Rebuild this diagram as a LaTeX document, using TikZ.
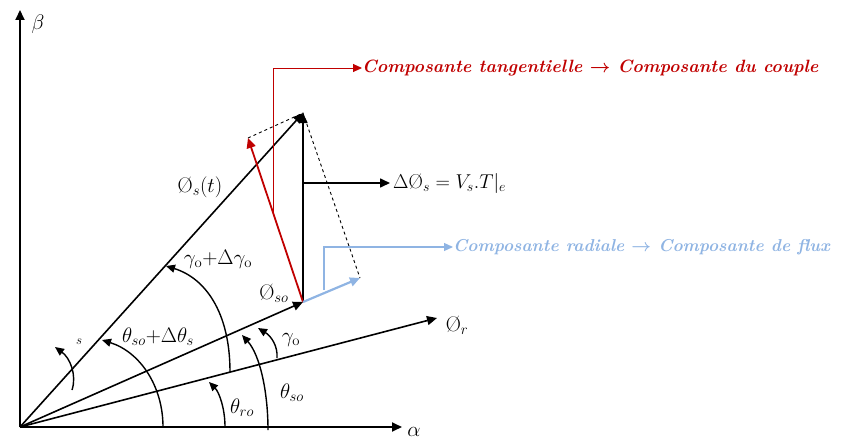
\RequirePackage{fix-cm}
\documentclass[tikz,border=0pt]{standalone}
\usepackage{amsmath}
\usetikzlibrary{arrows.meta}
\definecolor{redc}{RGB}{192,0,0}
\definecolor{bluec}{RGB}{143,180,227}
\begin{document}
\begin{tikzpicture}[x=1pt,y=-1pt,
  vec/.style={line width=1.6pt,-{Triangle[length=10pt,width=9pt]}},
  arcarrow/.style={line width=1.4pt,-{Triangle[length=9pt,width=8pt]}},
  conn/.style={line width=0.9pt,-{Triangle[length=9pt,width=8pt]}},
  lab/.style={inner sep=0pt,font=\fontsize{21}{23}\selectfont},
  comp/.style={inner sep=0pt,anchor=west,font=\fontsize{17.8}{21}\selectfont\bfseries\itshape}]
\useasboundingbox (0,0) rectangle (845,441);
% key points
\coordinate (O) at (20,427);
\coordinate (Ax) at (402,427);
\coordinate (Bx) at (20,10);
\coordinate (Pr) at (437,318);
\coordinate (Pso) at (303,302);
\coordinate (Pst) at (303,113);
\coordinate (Pt) at (248,138);
\coordinate (Prad) at (360,278);
\coordinate (Dv) at (303,183);
\coordinate (Dh) at (390,183);
% axes
\draw[vec,line width=1.8pt] (O) -- (Ax);
\draw[vec,line width=1.8pt] (O) -- (Bx);
\node[lab] (alpha) at (414,432) {$\alpha$};
\node[lab] (beta) at (38,24) {$\beta$};
% vectors
\draw[vec] (O) -- (Pr);
\draw[vec] (O) -- (Pso);
\draw[vec] (O) -- (Pst);
\draw[vec] (Pso) -- (Pst);
\draw[vec] (Dv) -- (Dh);
\draw[dashed,line width=0.9pt] (Pt) -- (Pst) -- (Prad);
\draw[vec,redc,line width=1.8pt] (Pso) -- (Pt);
\draw[vec,bluec,line width=2.2pt] (Pso) -- (Prad);
% labels of vectors
\node[lab] (lr) at (457,325) {$\text{\O}_r$};
\node[lab] (lso) at (274,293) {$\text{\O}_{so}$};
\node[lab] (lst) at (200,187) {$\text{\O}_s(t)$};
\node[lab,anchor=west,font=\fontsize{20}{22}\selectfont] (ld) at (393,183) {$\Delta\text{\O}_s = V_s.T|_{e}$};
% angle arcs
\coordinate (a1s) at (225,427); \coordinate (a1e) at (209,382);
\draw[arcarrow] (a1s) .. controls (225,408) and (219,392) .. (a1e);
\coordinate (a2s) at (268,430); \coordinate (a2e) at (242,335);
\draw[arcarrow] (a2s) .. controls (268,392) and (260,355) .. (a2e);
\coordinate (a3s) at (277,358); \coordinate (a3e) at (258,328);
\draw[arcarrow] (a3s) .. controls (278,346) and (271,336) .. (a3e);
\coordinate (a4s) at (230,372); \coordinate (a4e) at (166,266);
\draw[arcarrow] (a4s) .. controls (230,312) and (205,278) .. (a4e);
\coordinate (a5s) at (163,427); \coordinate (a5e) at (102,340);
\draw[arcarrow] (a5s) .. controls (163,386) and (140,352) .. (a5e);
\coordinate (a6s) at (72,390); \coordinate (a6e) at (55,347);
\draw[arcarrow] (a6s) .. controls (77,375) and (70,358) .. (a6e);
\node[lab] (lro) at (242,408) {$\theta_{ro}$};
\node[lab] (lso2) at (292,393) {$\theta_{so}$};
\node[lab] (lg) at (291,340) {$\gamma_{\mathrm{o}}$};
\node[lab] (lgd) at (218,259) {$\gamma_{\mathrm{o}}{+}\Delta\gamma_{\mathrm{o}}$};
\node[lab] (lth) at (158,337) {$\theta_{so}{+}\Delta\theta_s$};
\node[lab,font=\fontsize{13}{15}\selectfont] (ls) at (79,342) {$s$};
% components
\node[comp,text=redc] (tang) at (362,68) {Composante tangentielle $\boldsymbol{\rightarrow}$ Composante du couple};
\node[comp,text=bluec,font=\fontsize{17.2}{20}\selectfont\bfseries\itshape] (rad) at (453,247) {Composante radiale $\boldsymbol{\rightarrow}$ Composante de flux};
\coordinate (r0) at (273,213);
\coordinate (b0) at (324,290);
\draw[conn,redc] (r0) |- (tang.west);
\draw[conn,bluec,line width=1.2pt] (b0) |- (rad.west);
\end{tikzpicture}
\end{document}
